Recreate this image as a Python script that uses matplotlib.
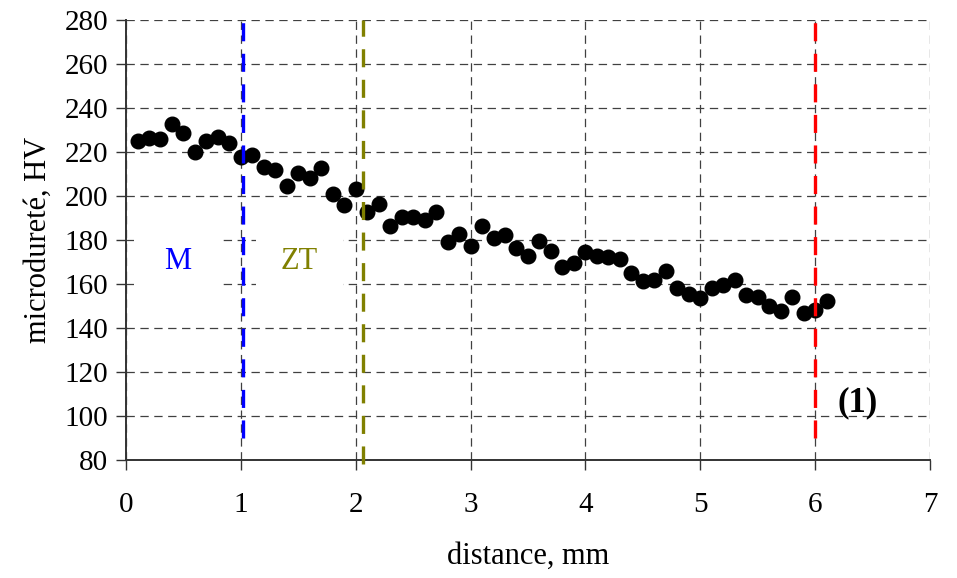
import numpy as np
import matplotlib

matplotlib.use("Agg")
import matplotlib.pyplot as plt
from matplotlib.patches import Rectangle

# microhardness profile, one indent every 0.1 mm
distance = [round(0.1 * i, 1) for i in range(1, 62)]
hardness = [
    225.0, 226.5, 225.7, 232.5, 228.6, 220.0, 225.0, 226.8, 224.0, 217.7,
    218.8, 213.2, 212.0, 204.6, 210.5, 208.3, 212.5, 200.8, 195.7, 203.0,
    192.6, 196.4, 186.2, 190.6, 190.4, 189.2, 192.6, 178.9, 182.6, 177.4,
    186.2, 181.0, 182.2, 176.3, 172.5, 179.5, 175.1, 167.5, 169.7, 174.6,
    172.9, 172.1, 171.2, 164.9, 161.2, 161.6, 166.0, 158.3, 155.5, 153.5,
    158.1, 159.6, 162.0, 155.0, 154.3, 150.2, 147.7, 154.3, 146.8, 148.0,
    152.2,
]

# zone boundaries: (x, y_from, y_to, colour)
bounds_x = [1.02, 2.06, 6.0]
bounds_lo = [90, 78, 90]
bounds_hi = [280, 280, 280]
bounds_col = ["#0000ff", "#808000", "#ff0000"]

zone_labels = ["M", "ZT"]
zone_x = [0.45, 1.51]
zone_col = ["#0000ff", "#808000"]

plt.rcParams["font.family"] = ["Liberation Serif", "DejaVu Serif"]
plt.rcParams["lines.scale_dashes"] = False

fig = plt.figure(figsize=(9.57, 5.78), dpi=100)
ax = fig.add_axes([0.1317, 0.2042, 0.84, 0.7612])

ax.set_xlim(0, 7)
ax.set_ylim(80, 280)
ax.set_xticks(range(0, 8))
ax.set_yticks(range(80, 281, 20))
ax.grid(True, color="#404040", ls=(0, (6, 4)), lw=0.9)
ax.set_axisbelow(True)
for s in ("top", "right"):
    ax.spines[s].set_visible(False)
for s in ("left", "bottom"):
    ax.spines[s].set_color("#333333")
    ax.spines[s].set_linewidth(1.4)
ax.tick_params(direction="out", length=7, width=1, color="#333333",
               labelsize=21, pad=6)
ax.tick_params(axis="x", pad=16)

# white label boxes hide the grid behind M / ZT
for lab, xc, c in zip(zone_labels, zone_x, zone_col):
    ax.add_patch(Rectangle((xc - 0.38, 157), 0.76, 26, fc="white", ec="none",
                           zorder=1.5))
    ax.text(xc, 170, lab, color=c, fontsize=22, ha="center", va="center",
            zorder=2)

ax.plot(distance, hardness, "o", color="black", ms=10.5, zorder=3,
        clip_on=False)

for x, lo, hi, c in zip(bounds_x, bounds_lo, bounds_hi, bounds_col):
    ax.plot([x, x], [lo, hi], color=c, lw=2.4, ls=(0, (13, 9)), zorder=4,
            clip_on=False)

ax.text(6.37, 106, "(1)", fontsize=25, fontweight="bold", ha="center",
        va="center")

ax.set_xlabel("distance, mm", fontsize=22, labelpad=17)
ax.set_ylabel("microdureté, HV", fontsize=22, labelpad=8)

fig.savefig("out.png", dpi=100)
